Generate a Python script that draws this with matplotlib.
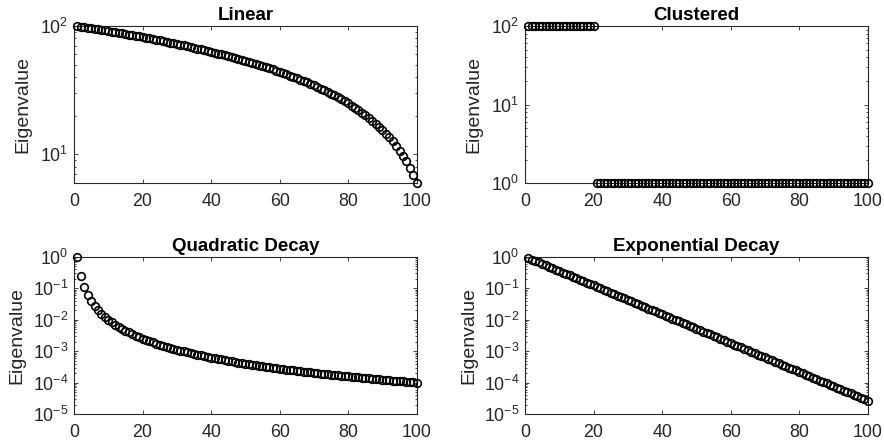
import math
import matplotlib
matplotlib.use("Agg")
import matplotlib.pyplot as plt
from matplotlib.ticker import FixedLocator, FuncFormatter, LogLocator, NullFormatter

# index of each eigenvalue (1..100)
idx = list(range(1, 101))

linear_vals = [
    100, 99.05, 98.1, 97.15, 96.2, 95.25, 94.3, 93.35, 92.4, 91.45,
    90.5, 89.55, 88.6, 87.65, 86.7, 85.75, 84.8, 83.85, 82.9, 81.95,
    81, 80.05, 79.1, 78.15, 77.2, 76.25, 75.3, 74.35, 73.4, 72.45,
    71.5, 70.55, 69.6, 68.65, 67.7, 66.75, 65.8, 64.85, 63.9, 62.95,
    62, 61.05, 60.1, 59.15, 58.2, 57.25, 56.3, 55.35, 54.4, 53.45,
    52.5, 51.55, 50.6, 49.65, 48.7, 47.75, 46.8, 45.85, 44.9, 43.95,
    43, 42.05, 41.1, 40.15, 39.2, 38.25, 37.3, 36.35, 35.4, 34.45,
    33.5, 32.55, 31.6, 30.65, 29.7, 28.75, 27.8, 26.85, 25.9, 24.95,
    24, 23.05, 22.1, 21.15, 20.2, 19.25, 18.3, 17.35, 16.4, 15.45,
    14.5, 13.55, 12.6, 11.65, 10.7, 9.75, 8.8, 7.85, 6.9, 5.95,
]

clustered_vals = [
    100, 100, 100, 100, 100, 100, 100, 100, 100, 100,
    100, 100, 100, 100, 100, 100, 100, 100, 100, 100,
    1, 1, 1, 1, 1, 1, 1, 1, 1, 1,
    1, 1, 1, 1, 1, 1, 1, 1, 1, 1,
    1, 1, 1, 1, 1, 1, 1, 1, 1, 1,
    1, 1, 1, 1, 1, 1, 1, 1, 1, 1,
    1, 1, 1, 1, 1, 1, 1, 1, 1, 1,
    1, 1, 1, 1, 1, 1, 1, 1, 1, 1,
    1, 1, 1, 1, 1, 1, 1, 1, 1, 1,
    1, 1, 1, 1, 1, 1, 1, 1, 1, 1,
]

quadratic_vals = [
    1, 0.25, 0.111, 0.0625, 0.04, 0.0278, 0.0204, 0.0156, 0.0123, 0.01,
    8.26e-3, 6.94e-3, 5.92e-3, 5.10e-3, 4.44e-3, 3.91e-3, 3.46e-3, 3.09e-3, 2.77e-3, 2.50e-3,
    2.27e-3, 2.07e-3, 1.89e-3, 1.74e-3, 1.60e-3, 1.48e-3, 1.37e-3, 1.28e-3, 1.19e-3, 1.11e-3,
    1.04e-3, 9.77e-4, 9.18e-4, 8.65e-4, 8.16e-4, 7.72e-4, 7.30e-4, 6.93e-4, 6.57e-4, 6.25e-4,
    5.95e-4, 5.67e-4, 5.41e-4, 5.17e-4, 4.94e-4, 4.73e-4, 4.53e-4, 4.34e-4, 4.16e-4, 4.00e-4,
    3.84e-4, 3.70e-4, 3.56e-4, 3.43e-4, 3.31e-4, 3.19e-4, 3.08e-4, 2.97e-4, 2.87e-4, 2.78e-4,
    2.69e-4, 2.60e-4, 2.52e-4, 2.44e-4, 2.37e-4, 2.30e-4, 2.23e-4, 2.16e-4, 2.10e-4, 2.04e-4,
    1.98e-4, 1.93e-4, 1.88e-4, 1.83e-4, 1.78e-4, 1.73e-4, 1.69e-4, 1.64e-4, 1.60e-4, 1.56e-4,
    1.52e-4, 1.49e-4, 1.45e-4, 1.42e-4, 1.38e-4, 1.35e-4, 1.32e-4, 1.29e-4, 1.26e-4, 1.23e-4,
    1.21e-4, 1.18e-4, 1.16e-4, 1.13e-4, 1.11e-4, 1.09e-4, 1.06e-4, 1.04e-4, 1.02e-4, 1.00e-4,
]

exponential_vals = [
    0.9, 0.81, 0.729, 0.656, 0.590, 0.531, 0.478, 0.430, 0.387, 0.349,
    0.314, 0.282, 0.254, 0.229, 0.206, 0.185, 0.167, 0.150, 0.135, 0.122,
    0.109, 0.0985, 0.0886, 0.0798, 0.0718, 0.0646, 0.0581, 0.0523, 0.0471, 0.0424,
    0.0382, 0.0343, 0.0309, 0.0278, 0.0250, 0.0225, 0.0203, 0.0182, 0.0164, 0.0148,
    0.0133, 0.0120, 0.0108, 9.70e-3, 8.73e-3, 7.86e-3, 7.07e-3, 6.36e-3, 5.73e-3, 5.15e-3,
    4.64e-3, 4.17e-3, 3.76e-3, 3.38e-3, 3.04e-3, 2.74e-3, 2.47e-3, 2.22e-3, 2.00e-3, 1.80e-3,
    1.62e-3, 1.46e-3, 1.31e-3, 1.18e-3, 1.06e-3, 9.55e-4, 8.60e-4, 7.74e-4, 6.96e-4, 6.27e-4,
    5.64e-4, 5.08e-4, 4.57e-4, 4.11e-4, 3.70e-4, 3.33e-4, 3.00e-4, 2.70e-4, 2.43e-4, 2.19e-4,
    1.97e-4, 1.77e-4, 1.59e-4, 1.44e-4, 1.29e-4, 1.16e-4, 1.05e-4, 9.42e-5, 8.48e-5, 7.63e-5,
    6.87e-5, 6.18e-5, 5.56e-5, 5.01e-5, 4.51e-5, 4.05e-5, 3.65e-5, 3.28e-5, 2.95e-5, 2.66e-5,
]

titles = ["Linear", "Clustered", "Quadratic Decay", "Exponential Decay"]
series = [linear_vals, clustered_vals, quadratic_vals, exponential_vals]
ylims = [(min(linear_vals), 100), (1, 100), (1e-5, 1), (1e-5, 1)]
xticks = [0, 20, 40, 60, 80, 100]

AX_COLOR = "#262626"

plt.rcParams["font.family"] = ["Liberation Sans", "DejaVu Sans"]
plt.rcParams["mathtext.fontset"] = "custom"
plt.rcParams["mathtext.rm"] = "Liberation Sans"
plt.rcParams["mathtext.it"] = "Liberation Sans:italic"
plt.rcParams["mathtext.bf"] = "Liberation Sans:bold"

fig = plt.figure(figsize=(8.84, 4.46), dpi=100)

# axes rectangles in figure fractions (left, bottom, width, height)
positions = [
    (0.0837, 0.589, 0.3877, 0.3527),
    (0.5939, 0.589, 0.3877, 0.3527),
    (0.0837, 0.0717, 0.3877, 0.3527),
    (0.5939, 0.0717, 0.3877, 0.3527),
]
label_x = [-0.124, -0.125, -0.142, -0.140]


def pow10(v, pos):
    exp = int(round(math.log10(v)))
    return r"$\mathregular{10^{%d}}$" % exp


for i in range(4):
    ax = fig.add_axes(positions[i])
    ax.plot(idx, series[i], "o", mfc="none", mec="black", ms=5.5, mew=1.2,
            clip_on=False, zorder=3)
    ax.set_yscale("log")
    ax.set_xlim(0, 100)
    ax.set_ylim(*ylims[i])
    ax.xaxis.set_major_locator(FixedLocator(xticks))
    ax.yaxis.set_major_locator(LogLocator(base=10, numticks=20))
    ax.yaxis.set_minor_locator(LogLocator(base=10, subs=range(2, 10), numticks=20))
    ax.yaxis.set_major_formatter(FuncFormatter(pow10))
    ax.yaxis.set_minor_formatter(NullFormatter())

    for s in ax.spines.values():
        s.set_color(AX_COLOR)
        s.set_linewidth(0.8)
    ax.tick_params(which="both", direction="in", top=True, right=True,
                   color=AX_COLOR, labelcolor=AX_COLOR, width=0.6)
    ax.tick_params(which="major", length=3.0)
    ax.tick_params(which="minor", length=1.6)
    ax.tick_params(axis="x", labelsize=12.8, pad=7)
    ax.tick_params(axis="y", labelsize=12.8, pad=4)

    ax.set_title(titles[i], fontsize=13.5, fontweight="bold", pad=4)
    ax.set_ylabel("Eigenvalue", fontsize=14, color=AX_COLOR)
    ax.yaxis.set_label_coords(label_x[i], 0.5)

fig.savefig("out.png", dpi=100)
